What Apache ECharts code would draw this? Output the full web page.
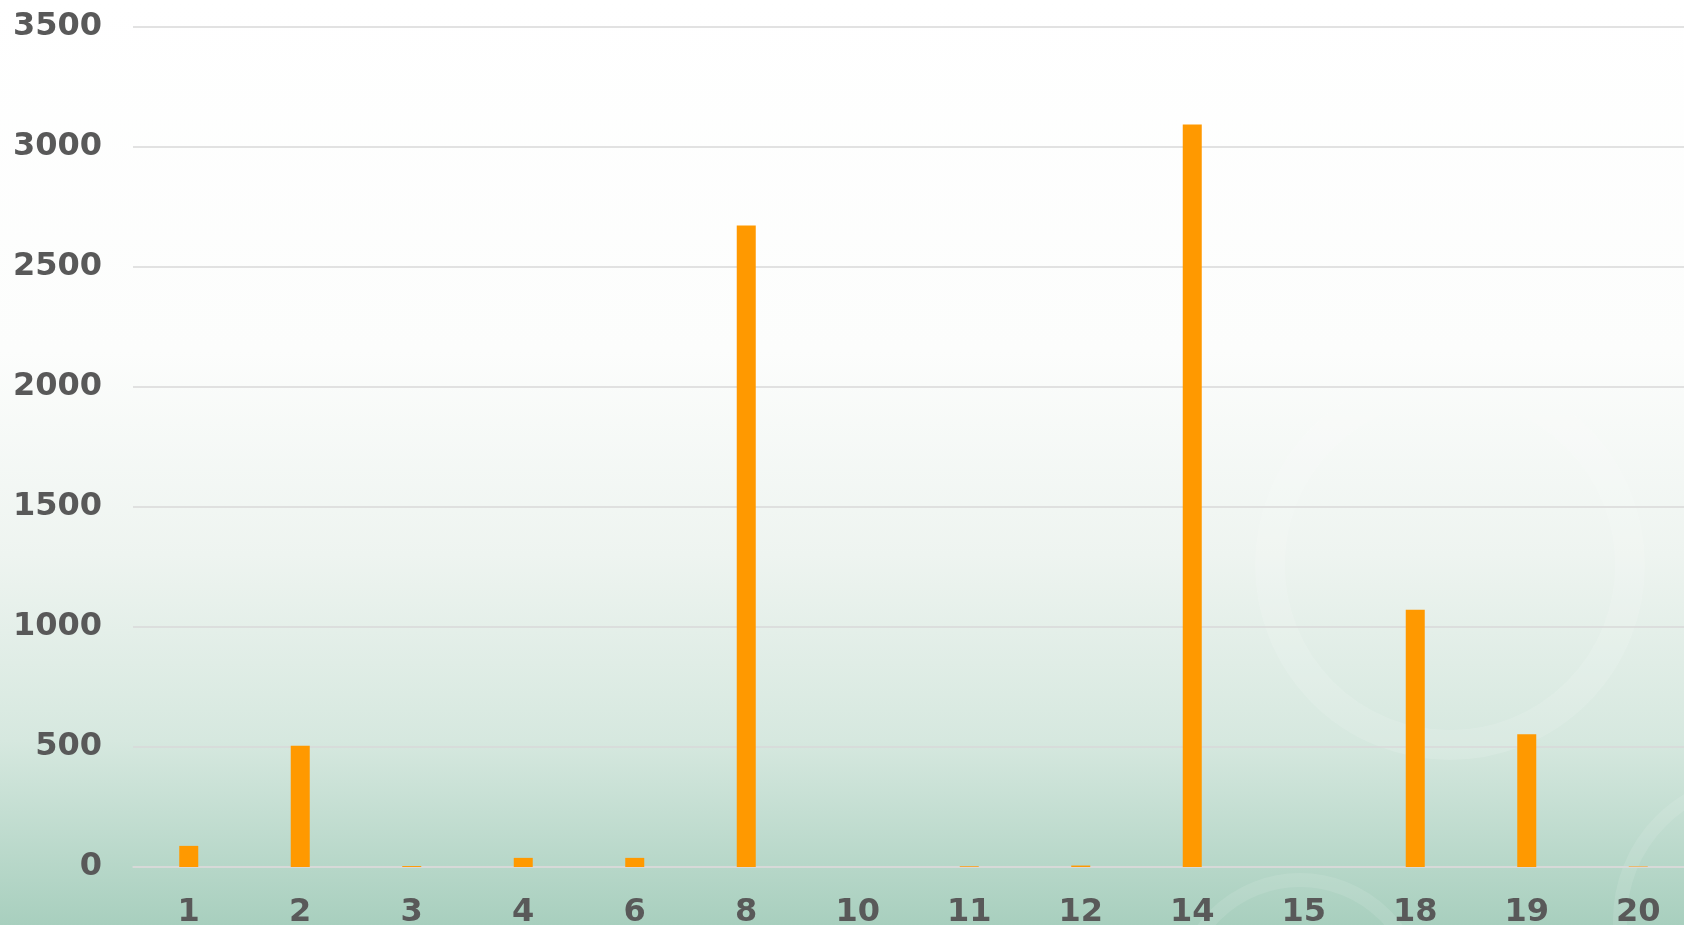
<!DOCTYPE html>
<html>
<head>
<meta charset="utf-8">
<script src="https://cdn.jsdelivr.net/npm/echarts@6/dist/echarts.min.js"></script>
<style>
  html, body { margin: 0; padding: 0; }
  #chart { width: 1684px; height: 925px; }
</style>
</head>
<body>
<div id="chart"></div>
<script>
// categories and values
const categories = ['1', '2', '3', '4', '6', '8', '10', '11', '12', '14', '15', '18', '19', '20']
const values = [88, 505, 4, 38, 38, 2673, 0, 3, 6, 3094, 0, 1072, 553, 2]
const yTicks = { min: 0, max: 3500, interval: 500 }

const chart = echarts.init(document.getElementById('chart'))

const labelStyle = {
  color: '#595959',
  fontFamily: 'DejaVu Sans',
  fontWeight: 'bold',
  fontSize: 32
}

const option = {
  backgroundColor: new echarts.graphic.LinearGradient(0, 0, 0, 1, [
    { offset: 0, color: '#ffffff' },
    { offset: 0.38, color: '#fcfdfc' },
    { offset: 0.6, color: '#eef4f0' },
    { offset: 0.8, color: '#d6e8df' },
    { offset: 1, color: '#a8cfbe' }
  ]),
  graphic: [
    // faint decorative rings in the lower right
    { type: 'circle', z: -1, shape: { cx: 1450, cy: 565, r: 180 },
      style: { fill: 'none', stroke: 'rgba(255,255,255,0.12)', lineWidth: 30 } },
    { type: 'circle', z: -1, shape: { cx: 1300, cy: 1000, r: 120 },
      style: { fill: 'none', stroke: 'rgba(255,255,255,0.1)', lineWidth: 14 } },
    { type: 'circle', z: -1, shape: { cx: 1760, cy: 920, r: 140 },
      style: { fill: 'none', stroke: 'rgba(255,255,255,0.1)', lineWidth: 14 } }
  ],
  grid: {
    left: 133,
    right: -10,
    top: 27,
    bottom: 58,
    outerBoundsMode: 'none'
  },
  xAxis: {
    type: 'category',
    data: categories,
    axisLine: { show: true, lineStyle: { color: '#d9d9d9', width: 1.5 } },
    axisTick: { show: false },
    axisLabel: { ...labelStyle, margin: 30 }
  },
  yAxis: {
    type: 'value',
    min: yTicks.min,
    max: yTicks.max,
    interval: yTicks.interval,
    axisLine: { show: false },
    axisTick: { show: false },
    axisLabel: { ...labelStyle, margin: 31, formatter: v => String(v) },
    splitLine: { lineStyle: { color: '#d9d9d9', width: 1.5 } }
  },
  series: [{
    type: 'bar',
    data: values,
    barWidth: 19,
    itemStyle: { color: '#ff9900' }
  }]
}

chart.setOption(option)
</script>
</body>
</html>
